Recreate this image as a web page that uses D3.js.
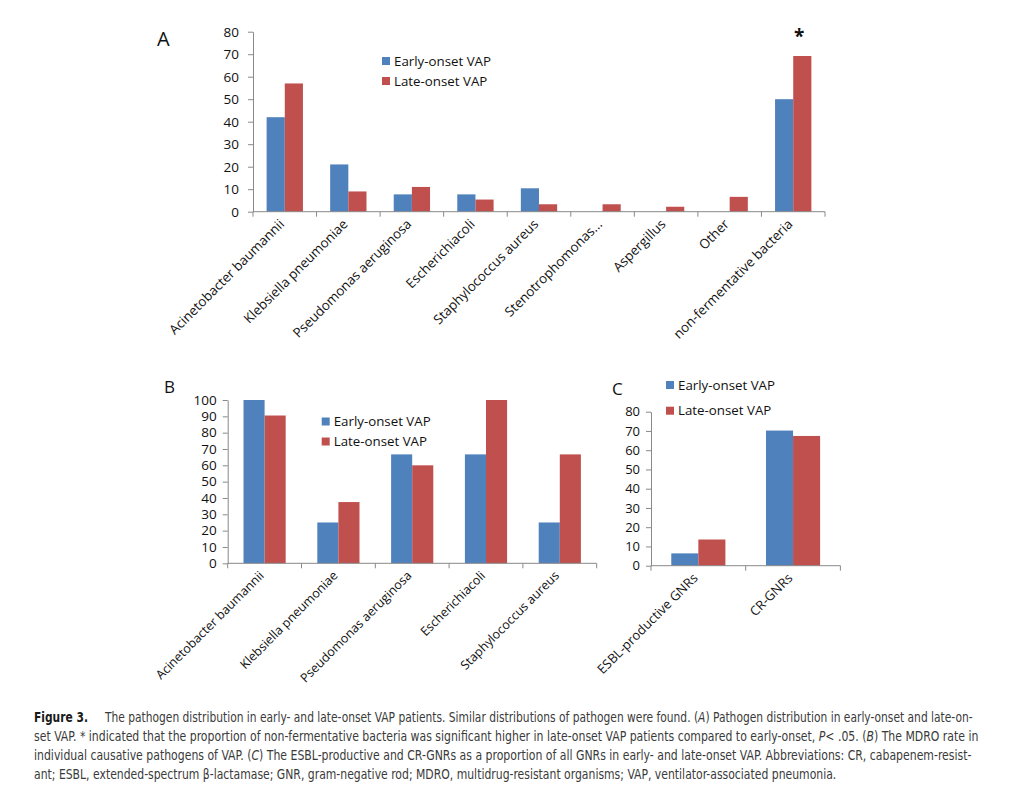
<!DOCTYPE html>
<html>
  <head>
    <meta charset="utf-8">
    <script src="https://cdn.jsdelivr.net/npm/d3@7/dist/d3.min.js"></script>
    <style>
      body { margin: 0; background: #fff; }
      svg { display: block; font-family: "Open Sans", sans-serif; }
      .caption { font-family: "DejaVu Sans Condensed", "Liberation Sans Narrow", sans-serif; fill: #3a3a3a; font-size: 14.5px; }
    </style>
  </head>
  <body>
    <svg id="fig" width="1009" height="804"></svg>
    <script>
      // values
      var seriesNames = ["Early-onset VAP", "Late-onset VAP"];
      var seriesColours = ["#4f81bd", "#c0504d"];

      var catsA = ["Acinetobacter baumannii", "Klebsiella pneumoniae", "Pseudomonas aeruginosa", "Escherichiacoli",
        "Staphylococcus aureus", "Stenotrophomonas...", "Aspergillus", "Other", "non-fermentative bacteria"];
      var earlyA = [42, 21, 7.7, 7.7, 10.4, 0, 0, 0, 50];
      var lateA = [57, 9, 11, 5.4, 3.3, 3.3, 2.2, 6.6, 69.2];
      var ticksA = [0, 10, 20, 30, 40, 50, 60, 70, 80];

      var catsB = ["Acinetobacter baumannii", "Klebsiella pneumoniae", "Pseudomonas aeruginosa", "Escherichiacoli", "Staphylococcus aureus"];
      var earlyB = [100, 25, 66.7, 66.7, 25];
      var lateB = [90.5, 37.5, 60, 100, 66.7];
      var ticksB = [0, 10, 20, 30, 40, 50, 60, 70, 80, 90, 100];

      var catsC = ["ESBL-productive GNRs", "CR-GNRs"];
      var earlyC = [6.4, 70.2];
      var lateC = [13.6, 67.4];
      var ticksC = [0, 10, 20, 30, 40, 50, 60, 70, 80];

      var svg = d3.select("#fig");

      function panel(opt){
        var g = svg.append("g");
        var x = d3.scaleBand().domain(opt.cats).range([opt.left, opt.right]);
        var x1 = d3.scaleBand().domain([0, 1]).range([0, x.bandwidth()]).paddingOuter(0.75);
        var y = d3.scaleLinear().domain([0, opt.max]).range([opt.bottom, opt.top]);
        var rows = opt.cats.map(function(c, i){ return {cat: c, v: [opt.early[i], opt.late[i]]}; });

        // bars
        g.selectAll("g.grp").data(rows).enter().append("g")
          .attr("transform", function(d){ return "translate(" + x(d.cat) + ",0)"; })
          .selectAll("rect").data(function(d){ return d.v; }).enter().append("rect")
          .attr("x", function(d, i){ return x1(i); })
          .attr("width", x1.bandwidth())
          .attr("y", function(d){ return y(d); })
          .attr("height", function(d){ return y(0) - y(d); })
          .attr("fill", function(d, i){ return seriesColours[i]; });

        // y axis
        var ya = g.append("g").attr("transform", "translate(" + opt.left + ",0)")
          .call(d3.axisLeft(y).tickValues(opt.ticks).tickSize(5).tickSizeOuter(0).tickPadding(opt.tickPad));
        ya.selectAll("path, line").attr("stroke", "#898989");
        ya.selectAll("text").attr("font-family", "Open Sans").attr("font-size", opt.tickFont).attr("fill", "#111");

        // x axis: line, boundary ticks, rotated labels
        g.append("line").attr("x1", opt.left).attr("x2", opt.right)
          .attr("y1", y(0)).attr("y2", y(0)).attr("stroke", "#898989");
        g.selectAll("line.bt").data(opt.cats.concat(["end"])).enter().append("line")
          .attr("x1", function(d, i){ return opt.left + i * x.step(); })
          .attr("x2", function(d, i){ return opt.left + i * x.step(); })
          .attr("y1", y(0)).attr("y2", y(0) + 5).attr("stroke", "#898989");
        var xa = g.append("g").attr("transform", "translate(0," + y(0) + ")")
          .call(d3.axisBottom(x).tickSize(0));
        xa.select(".domain").remove();
        xa.selectAll("text")
          .attr("font-family", "Open Sans").attr("font-size", opt.labelFont).attr("fill", "#111")
          .attr("x", 0).attr("y", 0).attr("dy", "0.35em")
          .attr("transform", "translate(-3," + opt.labelDrop + ") rotate(-45)")
          .style("text-anchor", "end");

        // legend
        var lg = g.append("g").attr("transform", "translate(" + opt.legend[0] + "," + opt.legend[1] + ")");
        seriesNames.forEach(function(n, i){
          lg.append("rect").attr("x", 0).attr("y", i * opt.legendStep - 4).attr("width", 8).attr("height", 8)
            .attr("fill", seriesColours[i]);
          lg.append("text").attr("x", 12).attr("y", i * opt.legendStep).attr("dy", "0.35em")
            .attr("font-size", 13.3).attr("fill", "#111").text(n);
        });

        // panel letter
        g.append("text").attr("x", opt.letterPos[0]).attr("y", opt.letterPos[1])
          .attr("font-size", opt.letterFont).attr("fill", "#111").text(opt.letter);
        return {x: x, x1: x1, y: y, g: g};
      }

      var pA = panel({cats: catsA, early: earlyA, late: lateA, ticks: ticksA, max: 80,
        left: 253, right: 825, top: 31.7, bottom: 211.7, tickPad: 9, tickFont: 13.5, labelFont: 13.3, labelDrop: 10,
        legend: [382, 61], legendStep: 20, letter: "A", letterPos: [157, 46], letterFont: 20});

      // significance star over the late-onset non-fermentative bar
      var lastA = catsA[catsA.length - 1];
      pA.g.append("text")
        .attr("x", pA.x(lastA) + pA.x1(1) + pA.x1.bandwidth() / 2 - 3)
        .attr("y", pA.y(80) + 11)
        .attr("text-anchor", "middle").attr("font-size", 19).attr("font-weight", "bold").attr("fill", "#111").text("*");

      panel({cats: catsB, early: earlyB, late: lateB, ticks: ticksB, max: 100,
        left: 227.7, right: 596.7, top: 400, bottom: 563.3, tickPad: 6, tickFont: 13.5, labelFont: 12.5, labelDrop: 10,
        legend: [321.7, 421.5], legendStep: 20, letter: "B", letterPos: [164, 393], letterFont: 17});

      panel({cats: catsC, early: earlyC, late: lateC, ticks: ticksC, max: 80,
        left: 651, right: 840.4, top: 411.7, bottom: 565.7, tickPad: 6, tickFont: 13, labelFont: 13, labelDrop: 10,
        legend: [666, 385], legendStep: 25.7, letter: "C", letterPos: [612, 395], letterFont: 17});

      // caption: each line is squeezed horizontally to the justified width of the original
      var capLines = [
        {end: 973, parts: [["Figure 3.", "b"], ["\u00a0\u00a0\u00a0\u00a0 The pathogen distribution in early- and late-onset VAP patients. Similar distributions of pathogen were found. ("], ["A", "i"], [") Pathogen distribution in early-onset and late-on-"]]},
        {end: 979, parts: [["set VAP. * indicated that the proportion of non-fermentative bacteria was significant higher in late-onset VAP patients compared to early-onset, "], ["P", "i"], ["< .05. ("], ["B", "i"], [") The MDRO rate in"]]},
        {end: 972, parts: [["individual causative pathogens of VAP. ("], ["C", "i"], [") The ESBL-productive and CR-GNRs as a proportion of all GNRs in early- and late-onset VAP. Abbreviations: CR, cabapenem-resist-"]]},
        {end: 837, parts: [["ant; ESBL, extended-spectrum \u03b2-lactamase; GNR, gram-negative rod; MDRO, multidrug-resistant organisms; VAP, ventilator-associated pneumonia."]]}
      ];
      var capX = 34, capY = 722, capStep = 19;
      capLines.forEach(function(line, i){
        var lineG = svg.append("g");
        var t = lineG.append("text").attr("class", "caption").attr("x", 0).attr("y", 0);
        line.parts.forEach(function(p){
          var s = t.append("tspan").text(p[0]);
          if(p[1] === "b") s.attr("font-weight", "bold").attr("fill", "#1a1a1a");
          if(p[1] === "i") s.attr("font-style", "italic");
        });
        var w = t.node().getComputedTextLength();
        lineG.attr("transform", "translate(" + capX + "," + (capY + i * capStep) + ") scale(" + ((line.end - capX) / w) + ",1)");
      });
    </script>
  </body>
</html>
